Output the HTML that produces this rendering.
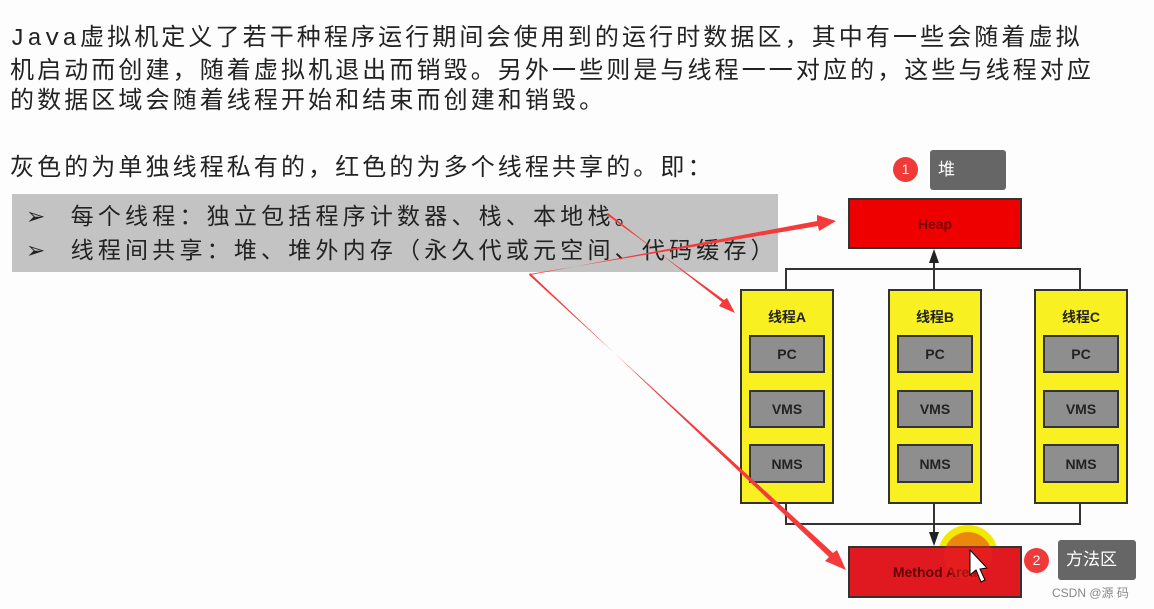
<!DOCTYPE html>
<html><head><meta charset="utf-8"><style>
body{margin:0;width:1154px;height:609px;background:#fdfdfd;position:relative;overflow:hidden;font-family:"Liberation Sans","Noto Sans CJK SC",sans-serif;}
.t{position:absolute;left:10px;font-size:24px;letter-spacing:3.1px;color:#222;white-space:nowrap;line-height:30px;font-family:"Liberation Mono","Noto Sans CJK SC",monospace;}
.gb{position:absolute;left:12px;top:194px;width:766px;height:78px;background:#c3c3c3;}
.b{position:absolute;left:26px;font-size:23px;letter-spacing:4.2px;color:#222;white-space:nowrap;line-height:30px;}
.box{position:absolute;border:2px solid #333;box-sizing:border-box;display:flex;align-items:center;justify-content:center;font-weight:bold;font-size:14px;color:#222;}
.red{background:#ee0000;}
.yel{background:#f8f020;align-items:flex-start;padding-top:16px;}
.g{background:#8e8e8e;}
.tip{position:absolute;background:#666;color:#fff;font-size:17px;border-radius:3px;padding-left:8px;line-height:40px;}
.c{position:absolute;width:25px;height:25px;border-radius:50%;background:#f03a3a;color:#fff;font-size:14px;text-align:center;line-height:25px;}
</style></head><body>
<div class="t" style="top:25px">Java虚拟机定义了若干种程序运行期间会使用到的运行时数据区，其中有一些会随着虚拟</div>
<div class="t" style="top:58px">机启动而创建，随着虚拟机退出而销毁。另外一些则是与线程一一对应的，这些与线程对应</div>
<div class="t" style="top:88px">的数据区域会随着线程开始和结束而创建和销毁。</div>
<div class="t" style="top:155px">灰色的为单独线程私有的，红色的为多个线程共享的。即：</div>
<div class="gb"></div>
<div class="b" style="top:201px">➢&nbsp; 每个线程：独立包括程序计数器、栈、本地栈。</div>
<div class="b" style="top:235px">➢&nbsp; 线程间共享：堆、堆外内存（永久代或元空间、代码缓存）</div>

<svg style="position:absolute;left:0;top:0" width="1154" height="609">
<g stroke="#333" stroke-width="2" fill="none">
<polyline points="786,289 786,269 1080,269 1080,289"/>
<line x1="934" y1="289" x2="934" y2="262"/>
<polyline points="786,503 786,524 1080,524 1080,503"/>
<line x1="934" y1="503" x2="934" y2="536"/>
</g>
<polygon points="934,249 929,263 939,263" fill="#222"/>
<polygon points="934,546 929,532 939,532" fill="#222"/>
<circle cx="968" cy="555" r="30" fill="#f2e800"/>
</svg>
<div class="box red" style="left:848px;top:198px;width:174px;height:51px;color:#700">Heap</div>
<div class="box red" style="left:848px;top:546px;width:174px;height:52px;background:#e01820;color:#600">Method Area</div>
<div class="box yel" style="left:740px;top:289px;width:94px;height:215px">线程A</div>
<div class="box yel" style="left:888px;top:289px;width:94px;height:215px">线程B</div>
<div class="box yel" style="left:1034px;top:289px;width:94px;height:215px">线程C</div>
<div class="box g" style="left:749px;top:335px;width:76px;height:38px">PC</div>
<div class="box g" style="left:749px;top:390px;width:76px;height:38px">VMS</div>
<div class="box g" style="left:749px;top:444px;width:76px;height:39px">NMS</div>
<div class="box g" style="left:897px;top:335px;width:76px;height:38px">PC</div>
<div class="box g" style="left:897px;top:390px;width:76px;height:38px">VMS</div>
<div class="box g" style="left:897px;top:444px;width:76px;height:39px">NMS</div>
<div class="box g" style="left:1043px;top:335px;width:76px;height:38px">PC</div>
<div class="box g" style="left:1043px;top:390px;width:76px;height:38px">VMS</div>
<div class="box g" style="left:1043px;top:444px;width:76px;height:39px">NMS</div>

<svg style="position:absolute;left:0;top:0" width="1154" height="609">
<g fill="#f43a3a">
<polygon points="608,213 722,302 719,306 735,313 727,298 724,300 607,215"/>
<polygon points="530,274 818,226 819,231 836,221 817,215 817,221 530,275"/>
<polygon points="530,273 829,557 825,561 846,570 837,550 833,553 529,275"/>
</g>
<circle cx="968" cy="556" r="24" fill="#e8241a" opacity="0.5"/>
<path d="M970,550 L970,575 L976,570 L981,582 L985,580 L980,569 L987,568 Z" fill="#fff" stroke="#000"/>
</svg>
<div class="c" style="left:893px;top:157px">1</div>
<div class="tip" style="left:930px;top:150px;width:68px">堆</div>
<div class="c" style="left:1024px;top:548px">2</div>
<div class="tip" style="left:1058px;top:540px;width:70px">方法区</div>
<div style="position:absolute;left:1052px;top:584px;font-size:12px;color:#888">CSDN @源 码</div>
</body></html>
